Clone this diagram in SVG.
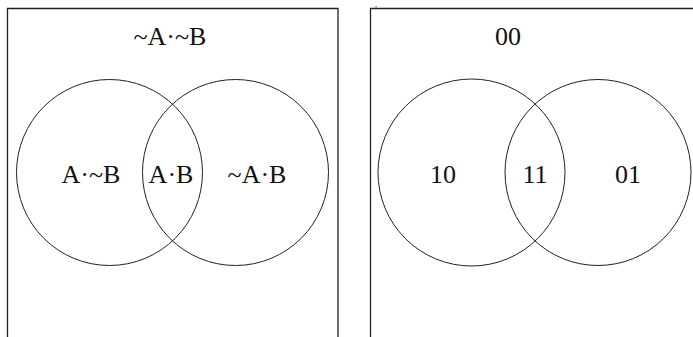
<svg xmlns="http://www.w3.org/2000/svg" width="693" height="337" viewBox="0 0 693 337">
<style>
.box{fill:none;stroke:#222;stroke-width:1.3}
.c{fill:none;stroke:#222;stroke-width:1}
text{font-family:"Liberation Serif","DejaVu Serif",serif;font-size:26px;fill:#111;text-anchor:middle}
</style>
<rect width="693" height="337" fill="#fff"/>
<g id="left-diagram">
<g id="left-box"><path class="box" d="M7.5 340 V8.5 H338 V340"/></g>
<g id="left-outside"><text x="170" y="45">~A·~B</text></g>
<g id="left-circle-A"><circle class="c" cx="109.5" cy="172.5" r="93"/><text x="91" y="183">A·~B</text></g>
<g id="left-circle-B"><circle class="c" cx="235.5" cy="172.5" r="93"/><text x="257" y="183">~A·B</text></g>
<g id="left-intersection"><text x="171" y="183">A·B</text></g>
</g>
<g id="right-diagram">
<g id="right-box"><path class="box" d="M370.5 340 V8.5 H700"/></g>
<text x="376" y="7" style="font-size:8px">,</text>
<g id="right-outside"><text x="508" y="45">00</text></g>
<g id="right-circle-A"><circle class="c" cx="471.5" cy="172.5" r="93.5"/><text x="443" y="183">10</text></g>
<g id="right-circle-B"><circle class="c" cx="598" cy="172.5" r="93"/><text x="628" y="183">01</text></g>
<g id="right-intersection"><text x="535" y="183">11</text></g>
</g>
<g id="connectors"></g>
</svg>
